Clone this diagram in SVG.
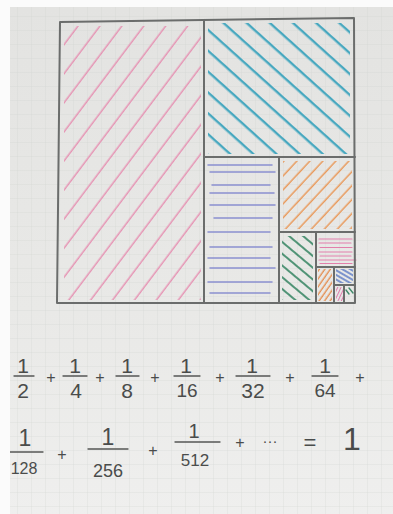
<svg xmlns="http://www.w3.org/2000/svg" width="393" height="514" viewBox="0 0 393 514">
<defs>
<linearGradient id="paper" x1="0" y1="0" x2="0" y2="1">
<stop offset="0" stop-color="#e3e3e1"/>
<stop offset="0.6" stop-color="#e9e9e7"/>
<stop offset="1" stop-color="#efefee"/>
</linearGradient>
<pattern id="grid" width="14" height="14" patternUnits="userSpaceOnUse" x="3" y="2">
<path d="M0 0H14M0 0V14" fill="none" stroke="#cfd0cf" stroke-width="0.8" opacity="0.6"/>
</pattern>
<pattern id="hPink" width="20" height="17.5" patternUnits="userSpaceOnUse" patternTransform="rotate(-53)">
<line x1="0" y1="8" x2="20" y2="8" stroke="#e68fb1" stroke-width="1.4"/>
</pattern>
<pattern id="hBlue" width="20" height="15.5" patternUnits="userSpaceOnUse" patternTransform="rotate(42)">
<line x1="0" y1="7" x2="20" y2="7" stroke="#44a7bf" stroke-width="2.3"/>
</pattern>
<pattern id="hOrange" width="20" height="9.5" patternUnits="userSpaceOnUse" patternTransform="rotate(-47)">
<line x1="0" y1="4" x2="20" y2="4" stroke="#e99a5c" stroke-width="1.5"/>
</pattern>
<pattern id="hGreen" width="20" height="9" patternUnits="userSpaceOnUse" patternTransform="rotate(40)">
<line x1="0" y1="4" x2="20" y2="4" stroke="#3f8a6a" stroke-width="1.8"/>
</pattern>
<pattern id="hOrange2" width="10" height="4.5" patternUnits="userSpaceOnUse" patternTransform="rotate(-55)">
<line x1="0" y1="2" x2="10" y2="2" stroke="#e58a4a" stroke-width="1.3"/>
</pattern>
<pattern id="hBlue2" width="10" height="4" patternUnits="userSpaceOnUse" patternTransform="rotate(30)">
<line x1="0" y1="2" x2="10" y2="2" stroke="#4d6fc2" stroke-width="1.4"/>
</pattern>
<pattern id="hPink2" width="10" height="3" patternUnits="userSpaceOnUse" patternTransform="rotate(-65)">
<line x1="0" y1="1.5" x2="10" y2="1.5" stroke="#df7fae" stroke-width="1"/>
</pattern>
<style>
.border{fill:none;stroke:#6b6d6c;stroke-width:2;stroke-linecap:round;stroke-linejoin:round}
.lav{stroke:#8b90cf;stroke-width:1.5;stroke-linecap:round}
.pk{stroke:#e27fab;stroke-width:1.2;stroke-linecap:round}
.gr{stroke:#3f8a6a;stroke-width:1.4;stroke-linecap:round}
.num{font-family:"Liberation Sans",Arial,sans-serif;fill:#4a4c4b;text-anchor:middle}
.bar{stroke:#555756;stroke-width:1.3;stroke-linecap:round}
</style>
</defs>

<rect width="393" height="514" fill="#fbfbfb"/>
<rect x="10" y="7" width="383" height="507" fill="url(#paper)"/>
<rect x="10" y="7" width="383" height="507" fill="url(#grid)"/>

<g id="hatching">
<rect x="64" y="26" width="137" height="274" fill="url(#hPink)"/>
<rect x="208" y="23" width="142" height="131" fill="url(#hBlue)"/>
<rect x="283" y="161" width="69" height="68" fill="url(#hOrange)"/>
<rect x="282" y="236" width="31" height="64" fill="url(#hGreen)"/>
<rect x="318" y="269" width="14" height="32" fill="url(#hOrange2)"/>
<rect x="336" y="269" width="17" height="14" fill="url(#hBlue2)"/>
<rect x="336" y="287" width="7" height="14" fill="url(#hPink2)"/>
<g id="lavender">
<line class="lav" x1="208" y1="165" x2="272" y2="165"/>
<line class="lav" x1="210" y1="172" x2="275" y2="172"/>
<line class="lav" x1="212" y1="185" x2="270" y2="185"/>
<line class="lav" x1="210" y1="193" x2="274" y2="193"/>
<line class="lav" x1="210" y1="205" x2="275" y2="205"/>
<line class="lav" x1="214" y1="218" x2="272" y2="218"/>
<line class="lav" x1="208" y1="232" x2="270" y2="232"/>
<line class="lav" x1="210" y1="247" x2="272" y2="247"/>
<line class="lav" x1="208" y1="258" x2="270" y2="258"/>
<line class="lav" x1="210" y1="268" x2="275" y2="268"/>
<line class="lav" x1="208" y1="282" x2="272" y2="282"/>
<line class="lav" x1="210" y1="293" x2="270" y2="293"/>
</g>
<g id="pinkRows">
<line class="pk" x1="319" y1="239" x2="352" y2="239"/>
<line class="pk" x1="319" y1="243" x2="351" y2="243"/>
<line class="pk" x1="320" y1="247.5" x2="352" y2="247.5"/>
<line class="pk" x1="319" y1="252" x2="352" y2="252"/>
<line class="pk" x1="320" y1="256" x2="351" y2="256"/>
<line class="pk" x1="319" y1="260" x2="356" y2="260"/>
<line class="pk" x1="320" y1="263.5" x2="352" y2="263.5"/>
</g>
<g id="tinyGreen">
<line class="gr" x1="346" y1="290" x2="349" y2="294"/>
<line class="gr" x1="349" y1="288" x2="353" y2="293"/>
</g>
</g>

<g id="squares">
<path class="border" d="M60 22 L354 18 L355 303 L57 303 Z"/>
<line class="border" x1="204" y1="20" x2="204" y2="303"/>
<line class="border" x1="204" y1="157" x2="355" y2="157"/>
<line class="border" x1="279" y1="157" x2="279" y2="303"/>
<line class="border" x1="279" y1="232" x2="355" y2="232"/>
<line class="border" x1="316" y1="232" x2="316" y2="303"/>
<line class="border" x1="316" y1="267" x2="355" y2="267"/>
<line class="border" x1="334" y1="267" x2="334" y2="303"/>
<line class="border" x1="334" y1="285" x2="355" y2="285"/>
<line class="border" x1="344" y1="285" x2="344" y2="303"/>
</g>

<g id="row1">
<text class="num" x="23" y="373" font-size="21">1</text><line class="bar" x1="14" y1="376" x2="34" y2="376"/><text class="num" x="23" y="398" font-size="21">2</text>
<text class="num" x="51" y="383" font-size="16">+</text>
<text class="num" x="75" y="373" font-size="21">1</text><line class="bar" x1="63" y1="376" x2="87" y2="376"/><text class="num" x="76" y="398" font-size="21">4</text>
<text class="num" x="100" y="383" font-size="16">+</text>
<text class="num" x="127" y="373" font-size="21">1</text><line class="bar" x1="116" y1="376" x2="139" y2="376"/><text class="num" x="127" y="398" font-size="21">8</text>
<text class="num" x="155" y="383" font-size="16">+</text>
<text class="num" x="186" y="373" font-size="21">1</text><line class="bar" x1="174" y1="376" x2="200" y2="376"/><text class="num" x="187" y="397" font-size="19">16</text>
<text class="num" x="220" y="383" font-size="16">+</text>
<text class="num" x="252" y="373" font-size="21">1</text><line class="bar" x1="236" y1="376" x2="270" y2="376"/><text class="num" x="253" y="398" font-size="21">32</text>
<text class="num" x="290" y="383" font-size="16">+</text>
<text class="num" x="325" y="373" font-size="21">1</text><line class="bar" x1="312" y1="376" x2="338" y2="376"/><text class="num" x="325" y="397" font-size="19">64</text>
<text class="num" x="360" y="383" font-size="16">+</text>
</g>

<g id="row2">
<text class="num" x="25" y="446" font-size="23">1</text><line class="bar" x1="10" y1="452" x2="43" y2="452"/><text class="num" x="24" y="474" font-size="16">128</text>
<text class="num" x="62" y="460" font-size="16">+</text>
<text class="num" x="108" y="445" font-size="23">1</text><line class="bar" x1="88" y1="449" x2="128" y2="449"/><text class="num" x="108" y="477" font-size="18">256</text>
<text class="num" x="153" y="456" font-size="16">+</text>
<text class="num" x="194" y="438" font-size="20">1</text><line class="bar" x1="175" y1="442" x2="220" y2="442"/><text class="num" x="195" y="466" font-size="17">512</text>
<text class="num" x="240" y="448" font-size="16">+</text>
<text class="num" x="270" y="446" font-size="15">···</text>
<text class="num" x="310" y="450" font-size="22">=</text>
<text class="num" x="352" y="450" font-size="32">1</text>
</g>

<rect x="0" y="0" width="10" height="514" fill="#fbfbfb"/>
<rect x="0" y="0" width="393" height="7" fill="#fbfbfb"/>
</svg>
